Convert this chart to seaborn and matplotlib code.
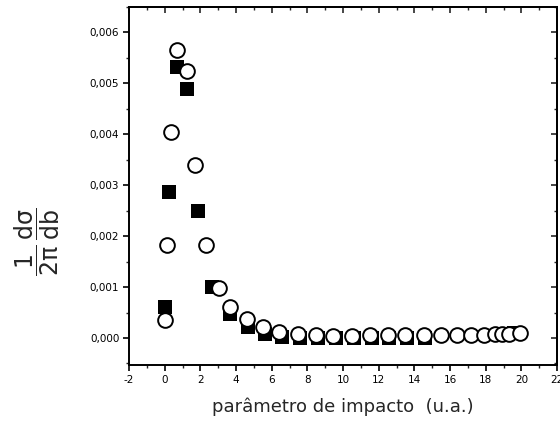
import matplotlib
matplotlib.use("Agg")
import matplotlib.pyplot as plt
import seaborn as sns
import pandas as pd
from matplotlib.ticker import MultipleLocator

# ---- data ----
sq_x = [0.02, 0.26, 0.67, 1.23, 1.85, 2.63, 3.66, 4.69, 5.63, 6.6,
        7.6, 8.6, 9.6, 10.6, 11.6, 12.6, 13.6, 14.6, 19.6]
sq_y = [0.00061, 0.00287, 0.00532, 0.00488, 0.00249, 0.00101, 0.00048,
        0.00022, 0.00007, 0.00002, 0.00001, 0.0, 0.0, 0.0, 0.0, 0.0, 0.0,
        0.0, 0.0001]

cir_x = [0.02, 0.11, 0.35, 0.71, 1.23, 1.70, 2.32, 3.06, 3.66, 4.6,
         5.49, 6.43, 7.46, 8.49, 9.46, 10.49, 11.5, 12.5, 13.5, 14.55,
         15.5, 16.4, 17.2, 17.9, 18.5, 18.9, 19.3, 19.9]
cir_y = [0.00035, 0.00182, 0.00405, 0.00566, 0.00524, 0.00339, 0.00182,
         0.00099, 0.0006, 0.00037, 0.00021, 0.00012, 0.00007, 0.00006,
         0.00004, 0.00004, 0.00005, 0.00005, 0.00005, 0.00005, 0.00005,
         0.00005, 0.00005, 0.00006, 0.00007, 0.00007, 0.00008, 0.0001]

x_ticks = [-2, 0, 2, 4, 6, 8, 10, 12, 14, 16, 18, 20, 22]
x_tick_labels = ["-2", "0", "2", "4", "6", "8", "10", "12", "14", "16", "18", "20", "22"]
y_ticks = [0.000, 0.001, 0.002, 0.003, 0.004, 0.005, 0.006]
y_tick_labels = ["0,000", "0,001", "0,002", "0,003", "0,004", "0,005", "0,006"]

x_label = "parâmetro de impacto  (u.a.)"
y_label = r"$\dfrac{1}{2\pi}\,\dfrac{d\sigma}{db}$"

# ---- plot ----
sns.set_style("ticks")
plt.rcParams["font.family"] = ["DejaVu Sans"]
plt.rcParams["mathtext.default"] = "regular"

fig = plt.figure(figsize=(5.6, 4.32), dpi=100)
ax = fig.add_axes([129 / 560, 1 - 365 / 432, (557 - 129) / 560, (365 - 7) / 432])

df_sq = pd.DataFrame({"b": sq_x, "v": sq_y})
df_ci = pd.DataFrame({"b": cir_x, "v": cir_y})

sns.scatterplot(data=df_sq, x="b", y="v", marker="s", s=112, color="black",
                edgecolor="black", linewidth=0, ax=ax, zorder=2)
sns.scatterplot(data=df_ci, x="b", y="v", marker="o", s=112, facecolor="white",
                edgecolor="black", linewidth=1.4, ax=ax, zorder=3)

ax.set_xlim(-2, 22)
ax.set_ylim(-0.00053, 0.0065)
ax.set_xticks(x_ticks)
ax.set_xticklabels(x_tick_labels)
ax.set_yticks(y_ticks)
ax.set_yticklabels(y_tick_labels)
ax.xaxis.set_minor_locator(MultipleLocator(1))
ax.yaxis.set_minor_locator(MultipleLocator(0.0005))
ax.tick_params(which="major", direction="out", length=4, width=1.2,
               labelsize=7.5, pad=3, colors="black")
ax.tick_params(which="minor", direction="out", length=2.5, width=1.0)
ax.set_xlabel("")
ax.set_ylabel("")

for sp in ax.spines.values():
    sp.set_visible(True)
    sp.set_linewidth(1.4)
    sp.set_color("black")

secx = ax.secondary_xaxis("top")
secx.set_xticks(x_ticks)
secx.xaxis.set_minor_locator(MultipleLocator(1))
secx.tick_params(which="major", direction="in", length=4, width=1.2, labeltop=False)
secx.tick_params(which="minor", direction="in", length=2.5, width=1.0)
secx.spines["top"].set_linewidth(1.4)

secy = ax.secondary_yaxis("right")
secy.set_yticks(y_ticks)
secy.yaxis.set_minor_locator(MultipleLocator(0.0005))
secy.tick_params(which="major", direction="in", length=4, width=1.2, labelright=False)
secy.tick_params(which="minor", direction="in", length=2.5, width=1.0)
secy.spines["right"].set_linewidth(1.4)

fig.text(343 / 560, 1 - 407 / 432, x_label, ha="center", va="center", fontsize=13)
fig.text(37 / 560, 1 - 242 / 432, y_label, ha="center", va="center",
         fontsize=17, rotation=90)

fig.savefig("out.png", dpi=100)
